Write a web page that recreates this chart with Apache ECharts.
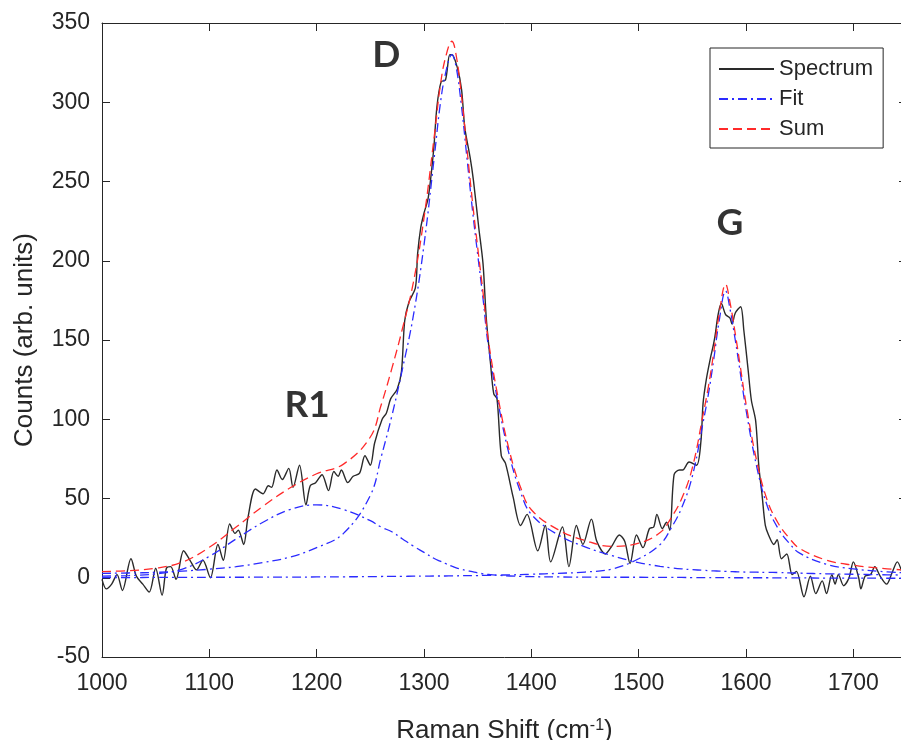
<!DOCTYPE html>
<html>
<head>
<meta charset="utf-8">
<script src="https://cdn.jsdelivr.net/npm/echarts/dist/echarts.min.js"></script>
<style>
  html, body { margin: 0; padding: 0; background: #fff; overflow: hidden; }
  /* the reference crops the right edge of the axes box, so the canvas runs past the frame */
  #frame { width: 901px; height: 740px; overflow: hidden; position: relative; }
  #chart { width: 908px; height: 740px; position: absolute; left: 0; top: 0; }
</style>
</head>
<body>
<div id="frame"><div id="chart"></div></div>
<script>
var specX = [1000,1004,1009,1014,1019,1027,1032,1038,1044,1050,1056,1060,1064,1069,1076,1082,1088,1094,1101,1108,
  1113,1119,1124,1127,1132,1136,1143,1150,1155,1158,1163,1168,1174,1178,1184,1190,1194,1199,1205,1211,
  1216,1220,1223,1229,1234,1240,1245,1250,1254,1261,1265,1269,1275,1279,1282,1286,1292,1294,1297,1300,
  1304,1309,1312,1316,1320,1324,1326,1331,1335,1338,1343,1346,1351,1355,1358,1362,1365,1368,1372,1376,
  1383,1390,1396,1406,1413,1418,1429,1435,1442,1448,1456,1461,1469,1475,1482,1487,1492,1498,1504,1510,
  1514,1517,1522,1526,1529,1533,1538,1541,1547,1554,1558,1560,1563,1567,1569,1571,1574,1577,1581,1585,
  1587,1590,1595,1598,1602,1605,1609,1612,1615,1618,1621,1626,1629,1633,1638,1643,1647,1654,1660,1665,
  1671,1675,1680,1683,1686,1691,1696,1700,1705,1707,1711,1716,1720,1725,1731,1736,1741,1745];
var specY = [-1,-7,-4,2,-8,12,1,-4,-9,6,-11,6,7,-1,17,11,5,11,0,21,
  11,34,28,30,21,38,56,53,58,57,68,62,69,57,71,46,58,60,65,55,
  67,64,68,60,64,66,77,71,85,100,104,113,119,130,162,174,183,204,221,230,
  240,270,297,313,314,330,330,322,308,284,265,251,221,198,164,135,116,113,77,72,
  51,33,40,17,33,10,32,7,33,21,37,23,15,20,27,23,9,27,19,31,
  32,40,31,35,30,65,68,68,73,71,86,110,125,139,145,152,166,173,166,164,
  160,167,171,156,131,112,99,70,52,33,27,21,24,12,15,2,4,-12,1,-10,
  -2,-10,2,-4,2,-5,0,10,0,-7,1,2,7,1,-4,3,10,4];

// fitted components on a common x grid
var fitX = [1000,1025,1050,1075,1100,1125,1150,1175,1200,1225,
  1250,1260,1270,1280,1290,1300,1310,1315,1320,1326,
  1330,1335,1340,1345,1350,1355,1360,1370,1380,1390,
  1400,1425,1450,1475,1500,1520,1530,1540,1550,1560,
  1565,1570,1575,1581,1585,1590,1595,1600,1610,1620,
  1630,1640,1650,1675,1700,1725,1745];
var fitD = [2.8,3.0,3.4,4.2,5.4,7.0,9.6,13,19,28,
  52,76,102,132,165,210,268,298,318,330,
  322,297,265,233,204,176,146,107,76,54,
  40,27,19.5,14,9.5,7.2,6.3,5.6,5.1,4.7,
  4.5,4.3,4.2,4.0,3.9,3.8,3.7,3.6,3.5,3.4,
  3.3,3.1,2.9,2.5,2.2,1.9,1.7];
var fitG = [0.1,0.1,0.2,0.2,0.3,0.3,0.4,0.4,0.5,0.6,
  0.7,0.8,0.9,0.9,1.0,1.0,1.1,1.1,1.1,1.2,
  1.2,1.3,1.3,1.4,1.4,1.5,1.5,1.7,1.8,2.0,
  2.2,2.8,3.6,5.5,12,21,31,44,64,98,
  116,138,162,181,170,150,128,106,70,45,
  31,22,15.5,8.5,5.6,4.0,3.2];
var fitR1 = [1.0,1.4,2.4,5.5,13.5,24.5,35,43,46,43,
  36,32,29,24.5,20,16,12,10.5,9,7.3,
  6.3,5.3,4.5,3.8,3.1,2.5,2.1,1.5,1.1,0.9,
  0.7,0.5,0.4,0.3,0.3,0.2,0.2,0.2,0.1,0.1,
  0.1,0.1,0.1,0.1,0.1,0.0,0.0,0.0,0.0,0.0,
  -0.1,-0.1,-0.1,-0.2,-0.2,-0.3,-0.3];
var fitSum = [3.9,4.5,6.0,9.9,19.2,32,45.1,56.6,65.6,71.7,
  88.8,108.8,131.9,157.4,186,227,281.1,309.6,328.1,338.5,
  329.5,303.6,270.8,238.2,208.5,180,149.6,110.2,78.9,56.9,
  42.9,30.3,23.5,19.8,21.8,28.5,37.5,49.8,69.3,102.9,
  120.7,142.5,166.4,185.2,174.1,154,131.9,109.8,73.6,48.5,
  34.4,25.2,18.5,11.1,7.9,6.0,5.0];

// peak names written on the plot
var peakNames = ['D', 'G', 'R1'];
var peakX = [1265, 1585, 1191];
var peakY = [330, 224, 109];

var FONT = 'Liberation Sans, Arial, sans-serif';
var AXIS_COLOR = '#262626';
var BLUE = '#2b2bff';
var RED = '#ff2a2a';
var DASHDOT = [9, 4, 2, 4];

function zip(xs, ys) {
  return xs.map(function (x, i) { return [x, ys[i]]; });
}

function fitSeries(ys) {
  return {
    name: 'Fit',
    type: 'line',
    data: zip(fitX, ys),
    symbol: 'none',
    smooth: 0.4,
    lineStyle: { color: BLUE, width: 1.3, type: DASHDOT },
    itemStyle: { color: BLUE },
    z: 3
  };
}

var chart = echarts.init(document.getElementById('chart'));

var tickStyle = { show: true, inside: true, length: 8, lineStyle: { color: AXIS_COLOR, width: 1 } };
var lineStyleAxis = { show: true, onZero: false, lineStyle: { color: AXIS_COLOR, width: 1 } };

var option = {
  animation: false,
  backgroundColor: '#fff',
  grid: { left: 102, right: 1, top: 23, bottom: 83, containLabel: false, outerBoundsMode: 'none' },
  legend: {
    data: ['Spectrum', 'Fit', 'Sum'],
    orient: 'vertical',
    left: 710,
    top: 48,
    itemWidth: 55,
    itemHeight: 14,
    itemGap: 8,
    padding: [10, 10, 8, 8],
    borderColor: AXIS_COLOR,
    borderWidth: 1,
    borderRadius: 0,
    backgroundColor: '#fff',
    itemStyle: { opacity: 0 },
    textStyle: { fontSize: 22, color: AXIS_COLOR, fontFamily: FONT }
  },
  xAxis: [{
    type: 'value',
    min: 1000,
    max: 1750,
    interval: 100,
    axisLine: lineStyleAxis,
    axisTick: tickStyle,
    splitLine: { show: false },
    axisLabel: {
      fontSize: 23, color: AXIS_COLOR, fontFamily: FONT, margin: 15,
      formatter: function (v) { return v % 100 === 0 ? String(v) : ''; }
    },
    name: '{a|Raman Shift (cm}{s|-1}{a|)}',
    nameLocation: 'middle',
    nameGap: 61,
    nameTextStyle: {
      rich: {
        a: { fontSize: 26, color: AXIS_COLOR, fontFamily: FONT },
        s: { fontSize: 16, color: AXIS_COLOR, fontFamily: FONT, verticalAlign: 'top' }
      }
    }
  }, {
    type: 'value',
    position: 'top',
    min: 1000,
    max: 1750,
    interval: 100,
    axisLine: lineStyleAxis,
    axisTick: tickStyle,
    splitLine: { show: false },
    axisLabel: { show: false }
  }],
  yAxis: [{
    type: 'value',
    min: -50,
    max: 350,
    interval: 50,
    axisLine: lineStyleAxis,
    axisTick: tickStyle,
    splitLine: { show: false },
    axisLabel: { fontSize: 23, color: AXIS_COLOR, fontFamily: FONT, margin: 12 },
    name: 'Counts (arb. units)',
    nameLocation: 'middle',
    nameGap: 64,
    nameTextStyle: { fontSize: 26, color: AXIS_COLOR, fontFamily: FONT }
  }, {
    // right side of the box lies just outside the cropped picture; only tick stubs show
    type: 'value',
    position: 'right',
    min: -50,
    max: 350,
    interval: 50,
    axisLine: { show: false, onZero: false },
    axisTick: tickStyle,
    splitLine: { show: false },
    axisLabel: { show: false }
  }],
  series: [
    {
      name: 'Spectrum',
      type: 'line',
      data: zip(specX, specY),
      symbol: 'none',
      smooth: 0.3,
      lineStyle: { color: '#2a2a2a', width: 1.4 },
      itemStyle: { color: '#2a2a2a' },
      z: 2
    },
    fitSeries(fitD),
    fitSeries(fitR1),
    fitSeries(fitG),
    {
      name: 'Sum',
      type: 'line',
      data: zip(fitX, fitSum),
      symbol: 'none',
      smooth: 0.4,
      lineStyle: { color: RED, width: 1.3, type: [9, 5] },
      itemStyle: { color: RED },
      z: 4
    },
    {
      name: 'peaks',
      type: 'scatter',
      data: peakX.map(function (x, i) { return { name: peakNames[i], value: [x, peakY[i]] }; }),
      symbolSize: 1,
      itemStyle: { color: 'rgba(0,0,0,0)' },
      silent: true,
      label: {
        show: true,
        position: 'inside',
        formatter: '{b}',
        fontSize: 37,
        fontWeight: 'bold',
        color: '#000',
        fontFamily: 'Lato, Open Sans, sans-serif'
      },
      z: 5
    }
  ]
};

chart.setOption(option);
</script>
</body>
</html>
